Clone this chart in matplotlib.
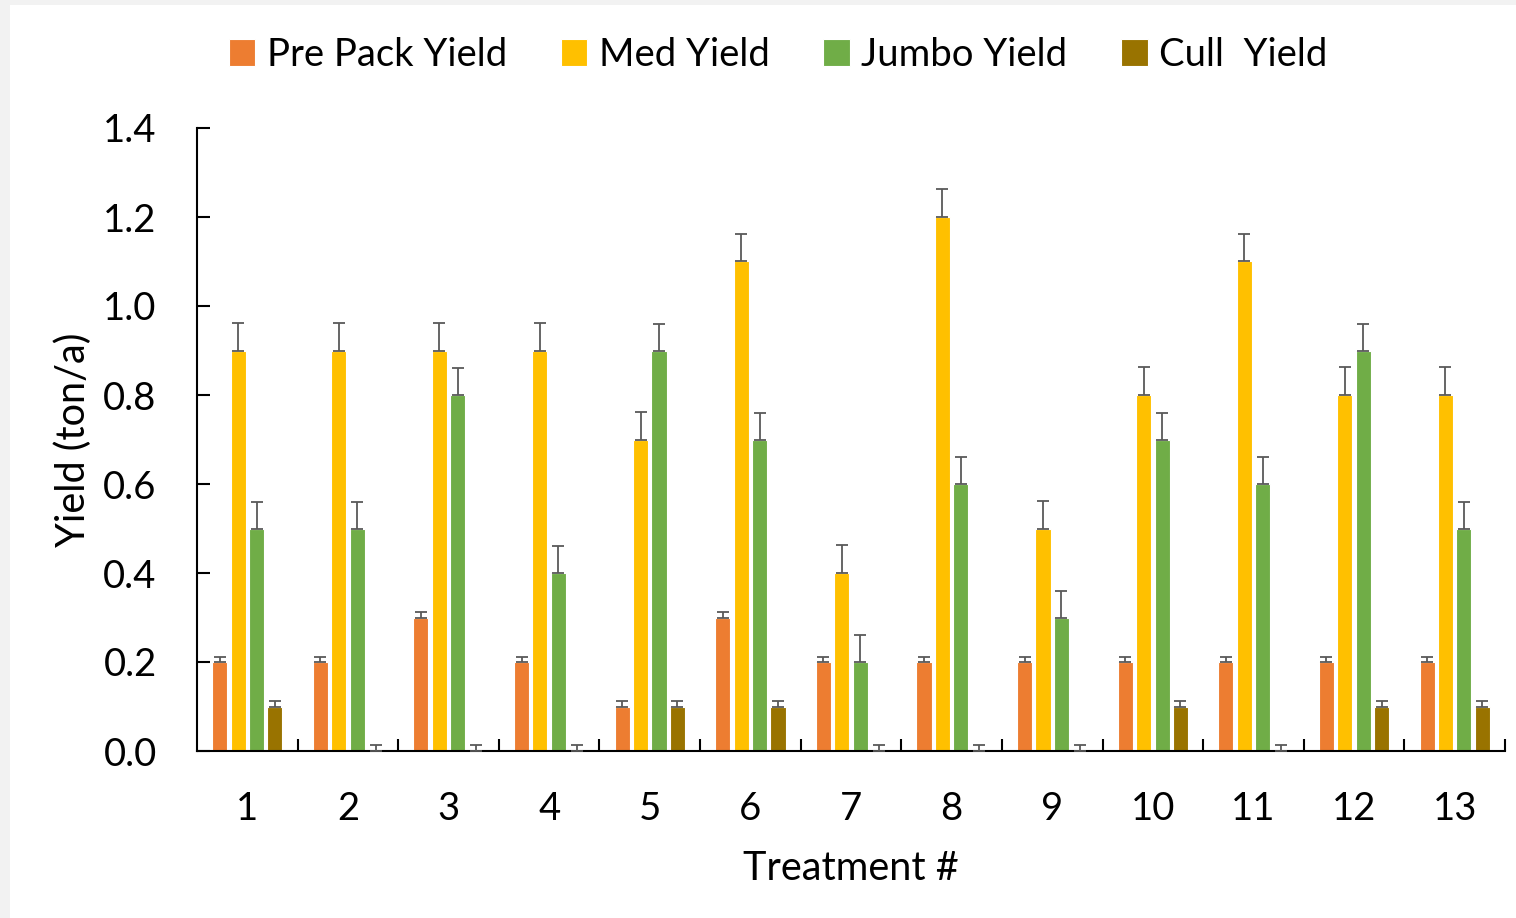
import matplotlib
matplotlib.use("Agg")
import matplotlib.pyplot as plt
import numpy as np
from matplotlib.patches import Rectangle

plt.rcParams['font.family'] = ['Lato', 'DejaVu Sans']

treatments = [str(i) for i in range(1, 14)]
series_names = ["Pre Pack Yield", "Med Yield", "Jumbo Yield", "Cull  Yield"]
pre_pack = [0.2, 0.2, 0.3, 0.2, 0.1, 0.3, 0.2, 0.2, 0.2, 0.2, 0.2, 0.2, 0.2]
med = [0.9, 0.9, 0.9, 0.9, 0.7, 1.1, 0.4, 1.2, 0.5, 0.8, 1.1, 0.8, 0.8]
jumbo = [0.5, 0.5, 0.8, 0.4, 0.9, 0.7, 0.2, 0.6, 0.3, 0.7, 0.6, 0.9, 0.5]
cull = [0.1, 0, 0, 0, 0.1, 0.1, 0, 0, 0, 0.1, 0, 0.1, 0.1]
err_pre = 0.012
err_med = 0.062
err_jumbo = 0.06
err_cull = 0.013
yticks = [0.0, 0.2, 0.4, 0.6, 0.8, 1.0, 1.2, 1.4]

colors = ["#ED7D31", "#FFC000", "#70AD47", "#997300"]
series = [pre_pack, med, jumbo, cull]
errs = [err_pre, err_med, err_jumbo, err_cull]

W, H = 1516, 918
fig = plt.figure(figsize=(W / 100, H / 100), dpi=100)
fig.patch.set_facecolor("#f2f2f2")
fig.patches.append(Rectangle((10 / W, 0), 1 - 10 / W, 1 - 5 / H, transform=fig.transFigure,
                             facecolor="white", edgecolor="none", zorder=-10))

ax = fig.add_axes([197 / W, 1 - 751 / H, (1505 - 197) / W, (751 - 128) / H])
ax.set_facecolor("none")

x = np.arange(1, 14)
step = 0.183
width = 0.15
for k, (vals, c, e, name) in enumerate(zip(series, colors, errs, series_names)):
    pos = x + (k - 1.5) * step
    ax.bar(pos, vals, width=width, color=c, edgecolor="white", linewidth=0.8, label=name, zorder=2)
    ax.errorbar(pos, vals, yerr=[np.zeros(len(vals)), np.full(len(vals), e)], fmt="none",
                ecolor="#595959", elinewidth=1.3, capsize=4.5, capthick=1.3, zorder=3)

ax.set_xlim(0.5, 13.5)
ax.set_ylim(0, 1.4)
ax.set_yticks(yticks)
ax.set_yticklabels([f"{v:.1f}" for v in yticks])
ax.set_xticks(x)
ax.set_xticklabels(treatments)
ax.set_xticks(np.arange(1.5, 14, 1.0), minor=True)
ax.tick_params(axis="x", which="major", length=0, pad=29, labelsize=27.5)
ax.tick_params(axis="x", which="minor", direction="in", length=9, width=1.5, color="black")
ax.tick_params(axis="y", direction="in", length=9, width=1.5, pad=29, labelsize=27.5)
for s in ["top", "right"]:
    ax.spines[s].set_visible(False)
for s in ["left", "bottom"]:
    ax.spines[s].set_linewidth(1.5)
    ax.spines[s].set_color("black")

ax.set_xlabel("Treatment #", fontsize=28.5, labelpad=16)
ax.set_ylabel("Yield (ton/a)", fontsize=28.5, labelpad=8)

handles, labels = ax.get_legend_handles_labels()
fig.legend(handles, labels, loc="center", bbox_to_anchor=(778 / W, 1 - 55 / H), ncol=4,
           frameon=False, fontsize=27.5, handlelength=0.7, handleheight=0.7,
           handletextpad=0.3, columnspacing=1.4)

fig.savefig("out.png", dpi=100, facecolor=fig.get_facecolor())
